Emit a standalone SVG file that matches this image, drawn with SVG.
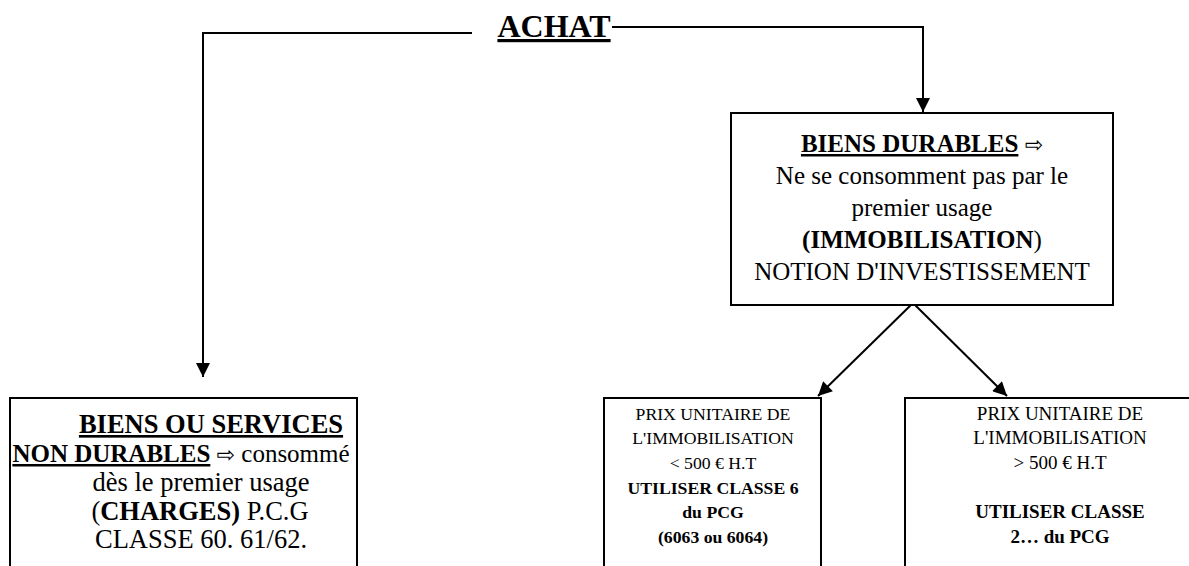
<svg xmlns="http://www.w3.org/2000/svg" width="1189" height="566" viewBox="0 0 1189 566">
<style>
text{font-family:"Liberation Serif","Times New Roman","DejaVu Serif",serif;fill:#000;text-anchor:middle}
.t{font-size:25px}
.l{font-size:26.5px}
.s{font-size:17.7px}
.r{font-size:19px}
.b{font-weight:bold}
.u{text-decoration:underline}
.ar{font-family:"DejaVu Sans",sans-serif;font-size:22px;font-weight:normal;text-decoration:none}
.box{fill:#fff;stroke:#000;stroke-width:2}
.ln{fill:none;stroke:#000;stroke-width:2}
</style>
<defs>
<marker id="ah" viewBox="0 0 10 10" refX="10" refY="5" markerWidth="7.5" markerHeight="7" markerUnits="strokeWidth" orient="auto">
<path d="M0,0 L10,5 L0,10 z" fill="#000"/>
</marker>
</defs>
<g id="connectors">
<path class="ln" d="M612,27 H923 V112" marker-end="url(#ah)"/>
<path class="ln" d="M472,33 H203 V377" marker-end="url(#ah)"/>
<path class="ln" d="M913,303 L818,396" marker-end="url(#ah)"/>
<path class="ln" d="M913,303 L1007,396" marker-end="url(#ah)"/>
</g>
<g id="achat">
<text x="554" y="37" class="b u" style="font-size:32px">ACHAT</text>
</g>
<g id="biens-durables">
<rect class="box" x="731" y="113" width="382" height="192"/>
<text class="t" x="922" y="152"><tspan class="b u">BIENS DURABLES</tspan> <tspan class="ar">⇨</tspan></text>
<text class="t" x="922" y="184">Ne se consomment pas par le</text>
<text class="t" x="922" y="216">premier usage</text>
<text class="t" x="922" y="248"><tspan class="b">(IMMOBILISATION</tspan>)</text>
<text class="t" x="922" y="280">NOTION D'INVESTISSEMENT</text>
</g>
<g id="non-durables">
<rect class="box" x="10" y="398" width="347" height="180"/>
<text class="l" x="211" y="433"><tspan class="b u">BIENS OU SERVICES</tspan></text>
<text class="t" x="181" y="462"><tspan class="b u">NON DURABLES</tspan> <tspan class="ar">⇨</tspan> consommé</text>
<text class="l" x="201" y="491">dès le premier usage</text>
<text class="l" x="200" y="520">(<tspan class="b">CHARGES)</tspan> P.C.G</text>
<text class="l" x="201" y="548">CLASSE 60. 61/62.</text>
</g>
<g id="moins-500">
<rect class="box" x="604" y="398" width="217" height="180"/>
<text class="s" x="713" y="420">PRIX UNITAIRE DE</text>
<text class="s" x="713" y="444">L'IMMOBILISATION</text>
<text class="s" x="713" y="469">&lt; 500 € H.T</text>
<text class="s b" x="713" y="494">UTILISER CLASSE 6</text>
<text class="s b" x="713" y="518">du PCG</text>
<text class="s b" x="713" y="543">(6063 ou 6064)</text>
</g>
<g id="plus-500">
<rect class="box" x="905" y="398" width="300" height="180"/>
<text class="r" x="1060" y="420">PRIX UNITAIRE DE</text>
<text class="r" x="1060" y="444">L'IMMOBILISATION</text>
<text class="r" x="1060" y="469">&gt; 500 € H.T</text>
<text class="r b" x="1060" y="518">UTILISER CLASSE</text>
<text class="r b" x="1060" y="543">2… du PCG</text>
</g>
</svg>
